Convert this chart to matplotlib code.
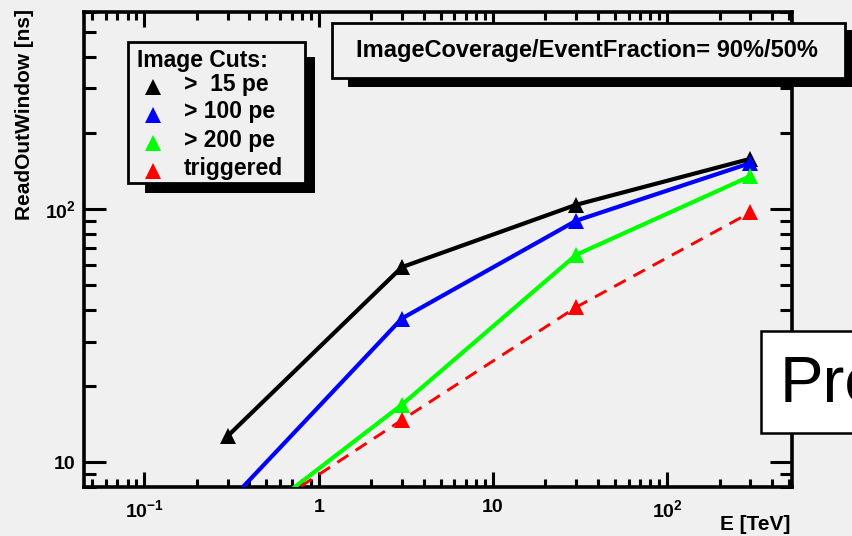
import matplotlib
matplotlib.use("Agg")
import matplotlib.pyplot as plt
from matplotlib.patches import Rectangle
from matplotlib.lines import Line2D
from matplotlib.ticker import FixedLocator, FixedFormatter, LogLocator, NullFormatter

plt.rcParams['font.family'] = ['Liberation Sans', 'DejaVu Sans']
plt.rcParams['mathtext.fontset'] = 'custom'
plt.rcParams['mathtext.rm'] = 'Liberation Sans:bold'
plt.rcParams['mathtext.default'] = 'rm'

# data
energy = [0.3, 3, 30, 300]
cut15 = [12.7, 59, 104, 158]
cut100 = [6.9, 37, 90, 152]
cut200 = [5.0, 16.9, 66, 135]
triggered = [5.2, 14.7, 41, 97]

legend_labels = [">  15 pe", "> 100 pe", "> 200 pe", "triggered"]
colors = ["black", "#0000ff", "#00ff00", "#ff0000"]
xtick_vals = [0.1, 1, 10, 100]
xtick_labels = ["$10^{-1}$", "1", "10", "$10^{2}$"]
ytick_vals = [10, 100]
ytick_labels = ["10", "$10^{2}$"]

W, H = 852, 536
bg = "#f0f0f0"
fig = plt.figure(figsize=(W / 100, H / 100), dpi=100, facecolor=bg)


def fx(x):
    return x / W


def fy(y):
    return 1 - y / H


ax = fig.add_axes([fx(84), fy(487), fx(792) - fx(84), fy(12) - fy(487)])
ax.set_facecolor(bg)
ax.set_xscale('log')
ax.set_yscale('log')
ax.set_xlim(0.045, 520)
ax.set_ylim(8.0, 600)

series = [cut15, cut100, cut200, triggered]
for vals, c in zip(series, colors):
    if c == "#ff0000":
        ax.plot(energy, vals, color=c, lw=2.1, ls=(0, (4.5, 3)), marker='^', ms=11.5,
                markeredgewidth=0, zorder=3)
    else:
        ax.plot(energy, vals, color=c, lw=3.0, marker='^', ms=11.5,
                markeredgewidth=0, zorder=3)

for s in ax.spines.values():
    s.set_linewidth(2.6)

ax.xaxis.set_major_locator(FixedLocator(xtick_vals))
ax.xaxis.set_major_formatter(FixedFormatter(xtick_labels))
ax.xaxis.set_minor_locator(LogLocator(base=10, subs=range(2, 10), numticks=20))
ax.xaxis.set_minor_formatter(NullFormatter())
ax.yaxis.set_major_locator(FixedLocator(ytick_vals))
ax.yaxis.set_major_formatter(FixedFormatter(ytick_labels))
ax.yaxis.set_minor_locator(LogLocator(base=10, subs=range(2, 10), numticks=20))
ax.yaxis.set_minor_formatter(NullFormatter())

ax.tick_params(axis='x', which='both', direction='in', top=True, width=2.2,
               labelsize=14, pad=9, colors='black')
ax.tick_params(axis='x', which='major', length=11)
ax.tick_params(axis='x', which='minor', length=6)
ax.tick_params(axis='y', which='both', direction='in', right=True, width=2.2,
               labelsize=14, pad=6)
ax.tick_params(axis='y', which='major', length=16)
ax.tick_params(axis='y', which='minor', length=8.5)
for lab in ax.get_xticklabels() + ax.get_yticklabels():
    lab.set_fontweight('bold')

fig.text(fx(790), fy(525), "E [TeV]", ha='right', va='center', fontsize=15,
         fontweight='bold')
fig.text(fx(25), fy(9), "ReadOutWindow [ns]", ha='center', va='top', rotation=90,
         fontsize=15, fontweight='bold')

# legend box with shadow
fig.add_artist(Rectangle((fx(305), fy(193)), fx(10), fy(57) - fy(193),
                         transform=fig.transFigure, facecolor='black', edgecolor='none'))
fig.add_artist(Rectangle((fx(145), fy(193)), fx(170), fy(183) - fy(193),
                         transform=fig.transFigure, facecolor='black', edgecolor='none'))
fig.add_artist(Rectangle((fx(128), fy(183)), fx(177), fy(42) - fy(183),
                         transform=fig.transFigure, facecolor=bg, edgecolor='black', lw=2))
fig.text(fx(137), fy(60), "Image Cuts:", ha='left', va='center', fontsize=16.5,
         fontweight='bold')
entry_y = [86, 114, 142, 170]
for lab, c, y in zip(legend_labels, colors, entry_y):
    fig.add_artist(Line2D([fx(153)], [fy(y + 1)], marker='^', ms=11.5, color=c,
                          markeredgewidth=0, transform=fig.transFigure))
    fig.text(fx(184), fy(y - 2), lab, ha='left', va='center', fontsize=16.5,
             fontweight='bold')

# title box with shadow
fig.add_artist(Rectangle((fx(845), fy(87)), fx(10), fy(30) - fy(87),
                         transform=fig.transFigure, facecolor='black', edgecolor='none'))
fig.add_artist(Rectangle((fx(348), fy(87)), fx(510), fy(78) - fy(87),
                         transform=fig.transFigure, facecolor='black', edgecolor='none'))
fig.add_artist(Rectangle((fx(332), fy(78)), fx(513), fy(23) - fy(78),
                         transform=fig.transFigure, facecolor=bg, edgecolor='black', lw=2))
fig.text(fx(587), fy(50), "ImageCoverage/EventFraction= 90%/50%", ha='center',
         va='center', fontsize=17, fontweight='bold')

# "Preliminary" stamp, cut by the right edge as in the original
fig.add_artist(Rectangle((fx(761), fy(433)), fx(200), fy(331) - fy(433),
                         transform=fig.transFigure, facecolor='white', edgecolor='black', lw=1.8))
fig.text(fx(780), fy(385), "Preliminary", ha='left', va='center', fontsize=47)

fig.savefig("out.png", dpi=100, facecolor=bg)
